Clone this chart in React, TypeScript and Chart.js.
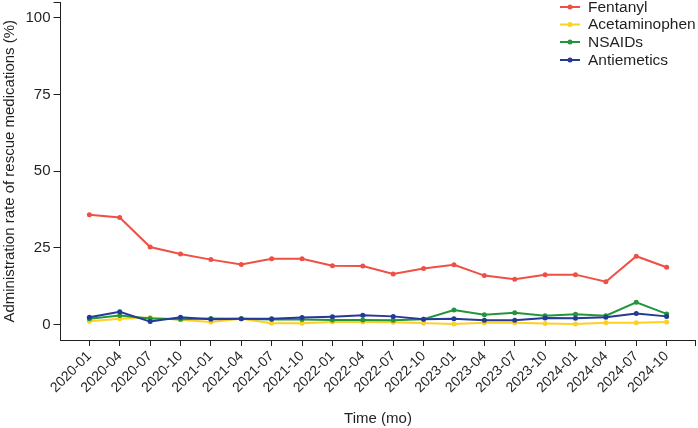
import React, { useEffect, useRef } from "react";
import { Chart, registerables } from "chart.js";

Chart.register(...registerables);

const labels = [
  "2020-01", "2020-04", "2020-07", "2020-10",
  "2021-01", "2021-04", "2021-07", "2021-10",
  "2022-01", "2022-04", "2022-07", "2022-10",
  "2023-01", "2023-04", "2023-07", "2023-10",
  "2024-01", "2024-04", "2024-07", "2024-10",
];

const fentanyl = [35.8, 34.9, 25.3, 23.0, 21.2, 19.6, 21.5, 21.5, 19.2, 19.1, 16.5, 18.3, 19.5, 16.0, 14.8, 16.3, 16.3, 14.0, 22.3, 18.7];
const acetaminophen = [1.1, 1.9, 2.3, 1.6, 0.9, 1.9, 0.5, 0.5, 0.9, 0.9, 0.8, 0.5, 0.2, 0.6, 0.6, 0.4, 0.2, 0.6, 0.6, 0.9];
const nsaids = [1.9, 3.0, 2.0, 1.8, 2.0, 1.9, 1.7, 1.7, 1.5, 1.5, 1.4, 1.8, 4.8, 3.2, 3.9, 2.9, 3.4, 2.9, 7.3, 3.5];
const antiemetics = [2.4, 4.2, 1.0, 2.4, 1.8, 1.9, 1.9, 2.3, 2.6, 3.1, 2.7, 1.8, 1.9, 1.4, 1.4, 2.2, 2.1, 2.4, 3.6, 2.7];

const seriesNames = ["Fentanyl", "Acetaminophen", "NSAIDs", "Antiemetics"];
const seriesColors = ["#ef5045", "#fdd023", "#23953b", "#233a96"];
const yTickValues = [0, 25, 50, 75, 100];

const TEXT = "#231f20";
const FONT = "'Liberation Sans', Arial, sans-serif";
const X_MIN = -0.95;
const X_MAX = 19.95;

const legendPlugin = {
  id: "customLegend",
  afterDraw(chart: any) {
    const ctx = chart.ctx;
    const x0 = 560;
    const x1 = 580;
    const tx = 588;
    const ys = [7, 24.5, 42, 60];
    ctx.save();
    chart.data.datasets.forEach((ds: any, i: number) => {
      const y = ys[i];
      ctx.strokeStyle = ds.borderColor;
      ctx.lineWidth = 2;
      ctx.beginPath();
      ctx.moveTo(x0, y);
      ctx.lineTo(x1, y);
      ctx.stroke();
      ctx.fillStyle = ds.borderColor;
      ctx.beginPath();
      ctx.arc((x0 + x1) / 2, y, 2.5, 0, Math.PI * 2);
      ctx.fill();
      ctx.fillStyle = TEXT;
      ctx.font = `15.5px ${FONT}`;
      ctx.textBaseline = "middle";
      ctx.textAlign = "left";
      ctx.fillText(ds.label, tx, y + 0.5);
    });
    ctx.restore();
  },
};

export default function App() {
  const ref = useRef<HTMLCanvasElement | null>(null);

  useEffect(() => {
    document.body.style.margin = "0";
    if (!ref.current) return;
    const values = [fentanyl, acetaminophen, nsaids, antiemetics];
    const orders = [3, 2, 1, 0];
    const chart = new Chart(ref.current, {
      type: "line",
      data: {
        datasets: values.map((arr, si) => ({
          label: seriesNames[si],
          data: arr.map((v, i) => ({ x: i, y: v })),
          borderColor: seriesColors[si],
          backgroundColor: seriesColors[si],
          borderWidth: 2,
          pointRadius: 2.5,
          pointHoverRadius: 2.5,
          pointBorderWidth: 0,
          pointBackgroundColor: seriesColors[si],
          tension: 0,
          order: orders[si],
          clip: false as any,
        })),
      },
      options: {
        responsive: false,
        animation: false,
        layout: { padding: { top: 1, right: 1, left: 0, bottom: 0 } },
        plugins: {
          legend: { display: false },
          tooltip: { enabled: false },
        },
        scales: {
          x: {
            type: "linear",
            min: X_MIN,
            max: X_MAX,
            afterBuildTicks(scale: any) {
              const t = [];
              for (let i = 0; i < labels.length; i++) t.push({ value: i });
              t.push({ value: X_MAX });
              scale.ticks = t;
            },
            afterFit(scale: any) {
              scale.height = 88;
              scale.paddingLeft = 0;
              scale.paddingRight = 0;
            },
            ticks: {
              autoSkip: false,
              maxRotation: 45,
              minRotation: 45,
              padding: 2,
              color: TEXT,
              font: { size: 14, family: FONT },
              callback(value: any) {
                const v = Number(value);
                const i = Math.round(v);
                return Math.abs(v - i) < 1e-6 && i >= 0 && i < labels.length ? labels[i] : "";
              },
            },
            grid: {
              drawOnChartArea: false,
              drawTicks: true,
              tickLength: 6,
              tickColor: TEXT,
              color: TEXT,
            },
            border: { display: true, color: TEXT, width: 1 },
            title: {
              display: true,
              text: "Time (mo)",
              color: TEXT,
              font: { size: 15, family: FONT },
              padding: { top: 0, bottom: 0 },
            },
          },
          y: {
            type: "linear",
            min: -5,
            max: 105,
            afterBuildTicks(scale: any) {
              scale.ticks = [...yTickValues, 105].map((v) => ({ value: v }));
            },
            afterFit(scale: any) {
              scale.width = 60.5;
              scale.paddingTop = 0;
              scale.paddingBottom = 0;
            },
            ticks: {
              padding: 3,
              color: TEXT,
              font: { size: 15, family: FONT },
              callback(value: any) {
                return yTickValues.includes(Number(value)) ? String(value) : "";
              },
            },
            grid: {
              drawOnChartArea: false,
              drawTicks: true,
              tickLength: 7,
              tickColor: TEXT,
              color: TEXT,
            },
            border: { display: true, color: TEXT, width: 1 },
            title: {
              display: true,
              text: "Administration rate of rescue medications (%)",
              color: TEXT,
              font: { size: 15, family: FONT },
              padding: { top: 1, bottom: 0 },
            },
          },
        },
      },
      plugins: [legendPlugin],
    });
    return () => chart.destroy();
  }, []);

  return (
    <div style={{ width: 698, height: 428 }}>
      <canvas ref={ref} width={698} height={428} style={{ display: "block" }} />
    </div>
  );
}
